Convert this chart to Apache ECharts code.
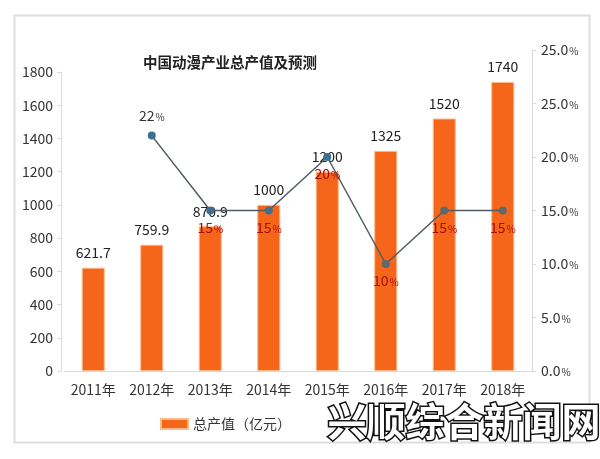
<!DOCTYPE html>
<html>
<head>
<meta charset="utf-8">
<script src="https://cdn.jsdelivr.net/npm/echarts@6/dist/echarts.min.js"></script>
<style>html,body{margin:0;padding:0;background:#fff;}#c{width:600px;height:459px;}</style>
</head>
<body>
<div id="c"></div>
<script>
const categories = ['2011年','2012年','2013年','2014年','2015年','2016年','2017年','2018年'];
const outputValues = [621.7, 759.9, 870.9, 1000, 1200, 1325, 1520, 1740];
const growthRates = [null, 22, 15, 15, 20, 10, 15, 15];
const rightTickLabels = ['0.0','5.0','10.0','15.0','20.0','25.0','25.0'];
const titleText = '中国动漫产业总产值及预测';
const legendText = '总产值（亿元）';
const watermarkText = '兴顺综合新闻网';

const FF = '"Noto Sans CJK SC","Noto Sans",sans-serif';
const chart = echarts.init(document.getElementById('c'));

const lineData = growthRates.map((v, i) => {
  if (v === null) return null;
  const isFirst = i === 1;
  return {
    value: v,
    label: {
      show: true,
      position: isFirst ? 'top' : 'bottom',
      distance: isFirst ? 9 : 6,
      formatter: p => '{n|' + p.value + '}{p|%}',
      rich: {
        n: { fontSize: 14, color: isFirst ? '#333' : '#a40f0f', fontFamily: FF },
        p: { fontSize: 10, color: isFirst ? '#333' : '#a40f0f', fontFamily: FF, padding: [3,0,0,1] }
      }
    },
    itemStyle: { color: i <= 4 ? '#3d6f93' : '#5d6870' }
  };
});

chart.setOption({
  backgroundColor: '#fff',
  animation: false,
  textStyle: { fontFamily: FF },
  title: {
    text: titleText, left: 138, top: 50,
    textStyle: { fontSize: 14.5, fontWeight: 'bold', color: '#222', fontFamily: FF }
  },
  legend: {
    data: [legendText], left: 155, top: 412,
    itemWidth: 27, itemHeight: 10, icon: 'rect',
    textStyle: { fontSize: 14, color: '#333', fontFamily: FF }
  },
  grid: [
    { left: 64, right: 68, top: 72, bottom: 88 },
    { left: 64, right: 68, top: 50, bottom: 88 }
  ],
  xAxis: [
    { type: 'category', data: categories, gridIndex: 0,
      axisLine: { lineStyle: { color: '#d9d9d9' } }, axisTick: { show: false },
      axisLabel: { color: '#333', fontSize: 14, margin: 12, interval: 0, fontFamily: FF } },
    { type: 'category', data: categories, gridIndex: 1, show: false }
  ],
  yAxis: [
    { type: 'value', gridIndex: 0, min: 0, max: 1800, interval: 200, offset: 3,
      axisLine: { show: true, lineStyle: { color: '#d9d9d9' } },
      axisTick: { show: true, length: 4, lineStyle: { color: '#d9d9d9' } },
      splitLine: { show: false },
      axisLabel: { color: '#333', fontSize: 14, margin: 8, fontFamily: FF, formatter: v => String(v) } },
    { type: 'value', gridIndex: 1, position: 'right', min: 0, max: 30, interval: 5,
      axisLine: { show: true, lineStyle: { color: '#d9d9d9' } },
      axisTick: { show: true, length: 4, inside: false, lineStyle: { color: '#d9d9d9' } },
      splitLine: { show: false },
      axisLabel: { margin: 9, formatter: (v, i) => '{n|' + rightTickLabels[i] + '}{p|%}',
        rich: { n: { fontSize: 14, color: '#333', fontFamily: FF }, p: { fontSize: 10, color: '#333', fontFamily: FF, padding: [3,0,0,1] } } } }
  ],
  series: [
    { name: legendText, type: 'bar', xAxisIndex: 0, yAxisIndex: 0, data: outputValues,
      barWidth: 23,
      itemStyle: { color: '#f5661a', borderColor: '#f9b98a', borderWidth: 1 },
      label: { show: true, position: 'top', distance: 8, color: '#222', fontSize: 14, fontFamily: FF } },
    { name: '增长率', type: 'line', xAxisIndex: 1, yAxisIndex: 1, data: lineData,
      symbol: 'circle', symbolSize: 8,
      lineStyle: { color: '#4f5c65', width: 1.5 } }
  ],
  graphic: [
    { type: 'rect', shape: { x: 14.5, y: 15.5, width: 575, height: 427 },
      style: { fill: 'none', stroke: '#dedede', lineWidth: 2 }, z: -1 },
    { type: 'text', left: 326, top: 400, z: 100,
      style: { text: watermarkText, fontSize: 39, fontWeight: 'bold', fontFamily: FF,
        fill: '#fff', stroke: '#111', lineWidth: 3 } }
  ]
});
</script>
</body>
</html>
